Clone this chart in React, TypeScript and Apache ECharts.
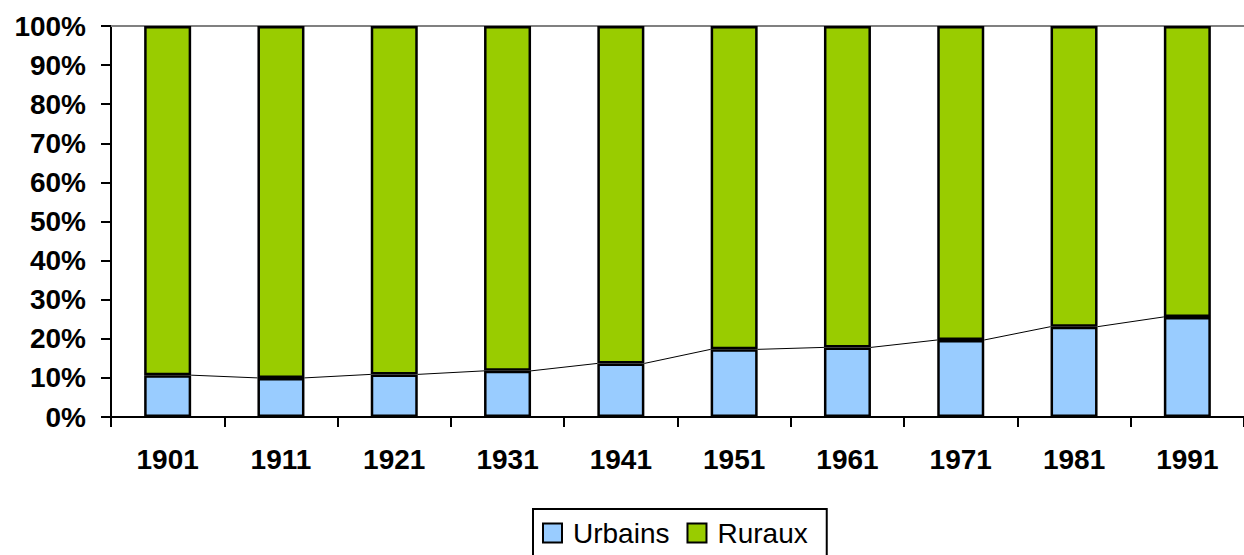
import React, { useEffect, useRef } from "react";
import * as echarts from "echarts";

const years = ["1901", "1911", "1921", "1931", "1941", "1951", "1961", "1971", "1981", "1991"];
const urbains = [10.7, 10.0, 10.9, 11.8, 13.7, 17.3, 17.8, 19.7, 23.1, 25.6];
const ruraux = [89.3, 90.0, 89.1, 88.2, 86.3, 82.7, 82.2, 80.3, 76.9, 74.4];

const FONT = "'Liberation Sans', Arial, sans-serif";

export default function App() {
  const ref = useRef<HTMLDivElement>(null);
  useEffect(() => {
    if (!ref.current) return;
    const chart = echarts.init(ref.current, null, { renderer: "svg" });
    const linkData = urbains.slice(0, -1).map((v, i) => [i, v, urbains[i + 1]]);
    chart.setOption({
      animation: false,
      backgroundColor: "#ffffff",
      grid: { left: 111, top: 26, width: 1140, height: 391, containLabel: false },
      legend: {
        left: 533,
        top: 509,
        data: ["Urbains", "Ruraux"],
        icon: "rect",
        itemWidth: 19,
        itemHeight: 19,
        itemGap: 17,
        borderColor: "#000",
        borderWidth: 2,
        padding: [10, 19, 10, 9],
        itemStyle: { borderColor: "#000", borderWidth: 2 },
        textStyle: { fontFamily: FONT, fontSize: 28, color: "#000", padding: [0, 0, 0, 6] },
      },
      xAxis: [
        {
          type: "category",
          data: years,
          boundaryGap: true,
          axisLine: { lineStyle: { color: "#000", width: 2 } },
          axisTick: { show: true, interval: 0, length: 10, lineStyle: { color: "#000", width: 2 } },
          axisLabel: { interval: 0, margin: 28, color: "#000", fontFamily: FONT, fontSize: 28, fontWeight: "bold" },
          splitLine: { show: false },
        },
        {
          type: "category",
          data: years,
          position: "top",
          axisLine: { lineStyle: { color: "#808080", width: 2 } },
          axisTick: { show: false },
          axisLabel: { show: false },
        },
      ],
      yAxis: {
        type: "value",
        min: 0,
        max: 100,
        interval: 10,
        axisLine: { show: true, lineStyle: { color: "#000", width: 2 } },
        axisTick: { show: true, length: 10, lineStyle: { color: "#000", width: 2 } },
        axisLabel: {
          formatter: "{value}%",
          margin: 25,
          color: "#000",
          fontFamily: FONT,
          fontSize: 28,
          fontWeight: "bold",
        },
        splitLine: { show: false },
      },
      series: [
        {
          name: "Urbains",
          type: "bar",
          stack: "total",
          barWidth: 47,
          data: urbains,
          itemStyle: { color: "#99CCFF", borderColor: "#000", borderWidth: 2.5 },
          z: 3,
        },
        {
          name: "Ruraux",
          type: "bar",
          stack: "total",
          barWidth: 47,
          data: ruraux,
          itemStyle: { color: "#99CC00", borderColor: "#000", borderWidth: 2.5 },
          z: 3,
        },
        {
          type: "custom",
          name: "lines",
          data: linkData,
          z: 4,
          silent: true,
          renderItem: (params: any, api: any) => {
            const i = api.value(0);
            const a = api.coord([i, api.value(1)]);
            const b = api.coord([i + 1, api.value(2)]);
            const half = 23.5;
            return {
              type: "line",
              shape: { x1: a[0] + half, y1: a[1], x2: b[0] - half, y2: b[1] },
              style: { stroke: "#000", lineWidth: 1 },
            };
          },
        },
      ],
    });
    return () => chart.dispose();
  }, []);
  return (
    <div
      ref={ref}
      style={{ position: "fixed", left: 0, top: 0, width: 1244, height: 555, background: "#fff" }}
    />
  );
}
